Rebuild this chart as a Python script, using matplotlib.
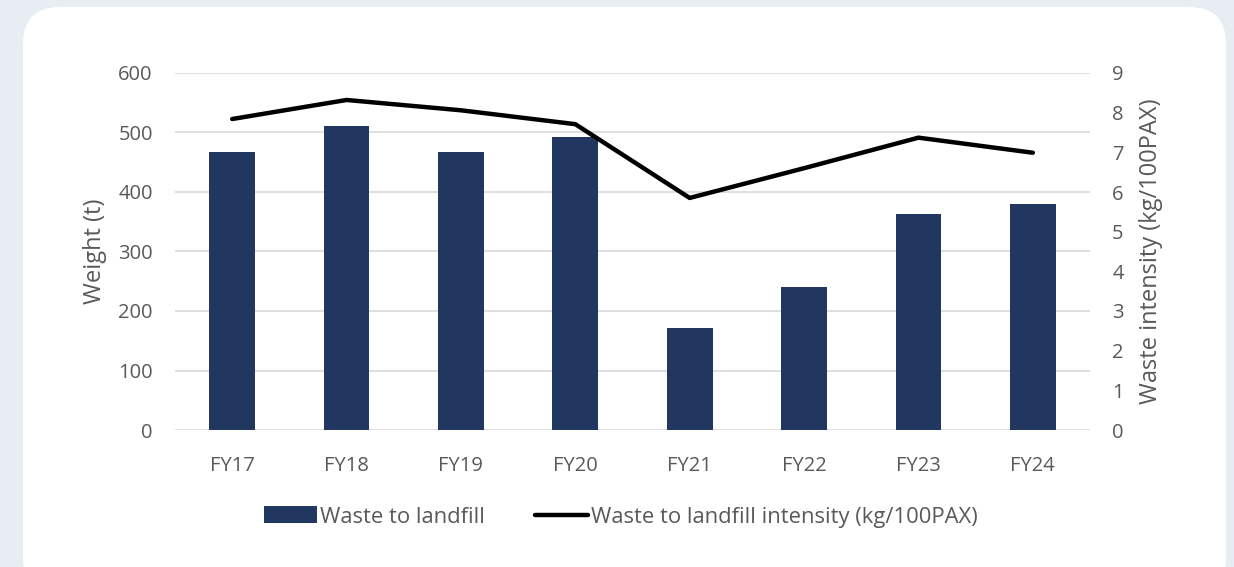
import matplotlib
matplotlib.use('Agg')
import matplotlib.pyplot as plt
from matplotlib.patches import FancyBboxPatch
from matplotlib.lines import Line2D
from matplotlib.patches import Patch

plt.rcParams['font.family'] = ['Open Sans', 'DejaVu Sans']

# data
years = ['FY17', 'FY18', 'FY19', 'FY20', 'FY21', 'FY22', 'FY23', 'FY24']
waste_t = [467, 511, 467, 492, 171, 240, 363, 380]
intensity = [7.84, 8.32, 8.06, 7.71, 5.85, 6.6, 7.37, 6.99]

BAR = '#22375f'
TXT = '#595959'
GRID = '#d9d9d9'

fig = plt.figure(figsize=(12.34, 5.67), dpi=100)
fig.patch.set_facecolor('#e8edf4')

# white rounded card behind the chart
card = FancyBboxPatch((23 / 1234, -0.05), (1226 - 23) / 1234, (567 - 7) / 567 + 0.05,
                      boxstyle='round,pad=0,rounding_size=0.03',
                      transform=fig.transFigure, facecolor='white', edgecolor='none',
                      mutation_aspect=1234 / 567, zorder=-5)
fig.patches.append(card)

ax = fig.add_axes([175 / 1234, 1 - 430 / 567, (1090 - 175) / 1234, (430 - 73) / 567])
ax.set_facecolor('none')
x = range(len(years))
ax.bar(x, waste_t, width=0.4, color=BAR, zorder=2)
ax.set_xlim(-0.5, len(years) - 0.5)
ax.set_ylim(0, 600)
ax.set_yticks(range(0, 601, 100))
ax.set_xticks(list(x))
ax.set_xticklabels(years)
ax.grid(axis='y', color=GRID, linewidth=1.2, zorder=0)
for s in ax.spines.values():
    s.set_visible(False)
ax.tick_params(axis='both', length=0, labelsize=14.5, labelcolor=TXT)
ax.tick_params(axis='x', pad=19)
ax.tick_params(axis='y', pad=16)
ax.set_ylabel('Weight (t)', fontsize=17, color=TXT, labelpad=8)

ax2 = ax.twinx()
ax2.plot(list(x), intensity, color='black', linewidth=3.2, solid_capstyle='round',
         solid_joinstyle='round', zorder=3)
ax2.set_ylim(0, 9)
ax2.set_yticks(range(0, 10))
for s in ax2.spines.values():
    s.set_visible(False)
ax2.tick_params(axis='y', length=0, labelsize=14.5, labelcolor=TXT, pad=16)
ax2.set_ylabel('Waste intensity (kg/100PAX)', fontsize=17, color=TXT, labelpad=11)

handles = [Patch(facecolor=BAR, edgecolor='none'),
           Line2D([0], [0], color='black', linewidth=3.2, solid_capstyle='round')]
fig.legend(handles, ['Waste to landfill', 'Waste to landfill intensity (kg/100PAX)'],
           loc='center', bbox_to_anchor=(621 / 1234, 1 - 517 / 567), ncol=2, frameon=False,
           fontsize=15.8, labelcolor=TXT, handlelength=2.4, handleheight=0.8,
           handletextpad=0.15, columnspacing=2.3)

fig.savefig('out.png', dpi=100, facecolor=fig.get_facecolor())
